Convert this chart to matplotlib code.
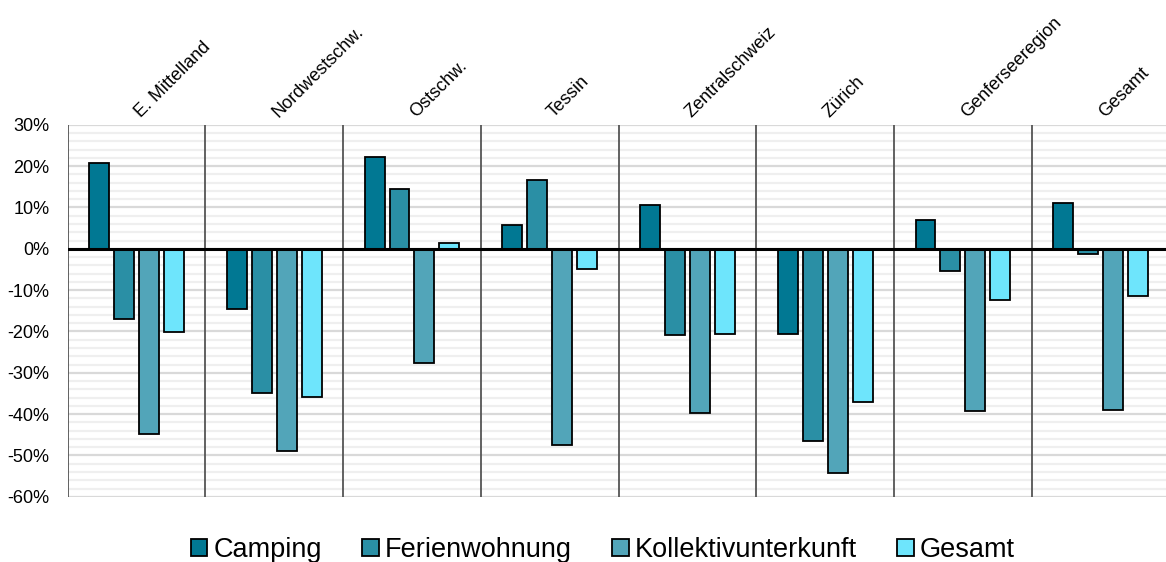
import numpy as np
import matplotlib
matplotlib.use("Agg")
import matplotlib.pyplot as plt
import matplotlib.transforms as mtrans
from matplotlib.ticker import MultipleLocator, FuncFormatter
from matplotlib.patches import Patch

plt.rcParams['font.family'] = ['Liberation Sans', 'DejaVu Sans']

regions = ['E. Mittelland', 'Nordwestschw.', 'Ostschw.', 'Tessin',
           'Zentralschweiz', 'Zürich', 'Genferseeregion', 'Gesamt']
series = ['Camping', 'Ferienwohnung', 'Kollektivunterkunft', 'Gesamt']
camping = [20.8, -14.5, 22.3, 5.8, 10.7, -20.6, 7.0, 11.0]
ferienwohnung = [-17.0, -34.9, 14.5, 16.7, -20.8, -46.5, -5.3, -1.3]
kollektiv = [-44.8, -48.9, -27.6, -47.5, -39.7, -54.2, -39.2, -39.0]
gesamt = [-20.1, -35.8, 1.5, -4.8, -20.6, -37.0, -12.5, -11.4]
colors = ['#017893', '#2a8fa5', '#52a5b9', '#6ee5fc']

fig = plt.figure(figsize=(11.66, 5.62), dpi=100)
ax = fig.add_axes([0.058, 0.116, 0.945, 0.662])

x = np.arange(len(regions)) + 0.5
step = 0.181
width = 0.145
for i, (vals, col) in enumerate(zip([camping, ferienwohnung, kollektiv, gesamt], colors)):
    ax.bar(x + (i - 1.5) * step, vals, width, color=col, edgecolor='black',
           linewidth=1.3, zorder=3)

ax.set_xlim(0, len(regions))
ax.set_ylim(-60, 30)
ax.yaxis.set_major_locator(MultipleLocator(10))
ax.yaxis.set_minor_locator(MultipleLocator(2))
ax.yaxis.set_major_formatter(FuncFormatter(lambda v, p: f'{v:.0f}%'))
ax.grid(axis='y', which='major', color='#d9d9d9', linewidth=1.6, zorder=0)
ax.grid(axis='y', which='minor', color='#efefef', linewidth=1.6, zorder=0)
ax.tick_params(axis='y', which='both', length=0, labelsize=13, pad=13)
ax.axhline(0, color='black', linewidth=2.2, zorder=4)

for s in range(len(regions) + 1):
    ax.axvline(s, color='#555555', linewidth=1.3, zorder=2)

for sp in ax.spines.values():
    sp.set_visible(False)

ax.set_xticks(x)
ax.set_xticklabels(regions, rotation=45, ha='left', rotation_mode='anchor', fontsize=13)
ax.xaxis.tick_top()
ax.tick_params(axis='x', length=0, pad=3)
shift = mtrans.ScaledTranslation(7 / 100, 0, fig.dpi_scale_trans)
for lbl in ax.get_xticklabels():
    lbl.set_transform(lbl.get_transform() + shift)

handles = [Patch(facecolor=c, edgecolor='black', linewidth=1.3) for c in colors]
fig.legend(handles, series, loc='lower center', bbox_to_anchor=(0.517, -0.045), ncol=4,
           frameon=False, fontsize=19.5, handlelength=0.6, handleheight=0.6,
           handletextpad=0.22, columnspacing=1.5)

fig.savefig('out.png', dpi=100)
